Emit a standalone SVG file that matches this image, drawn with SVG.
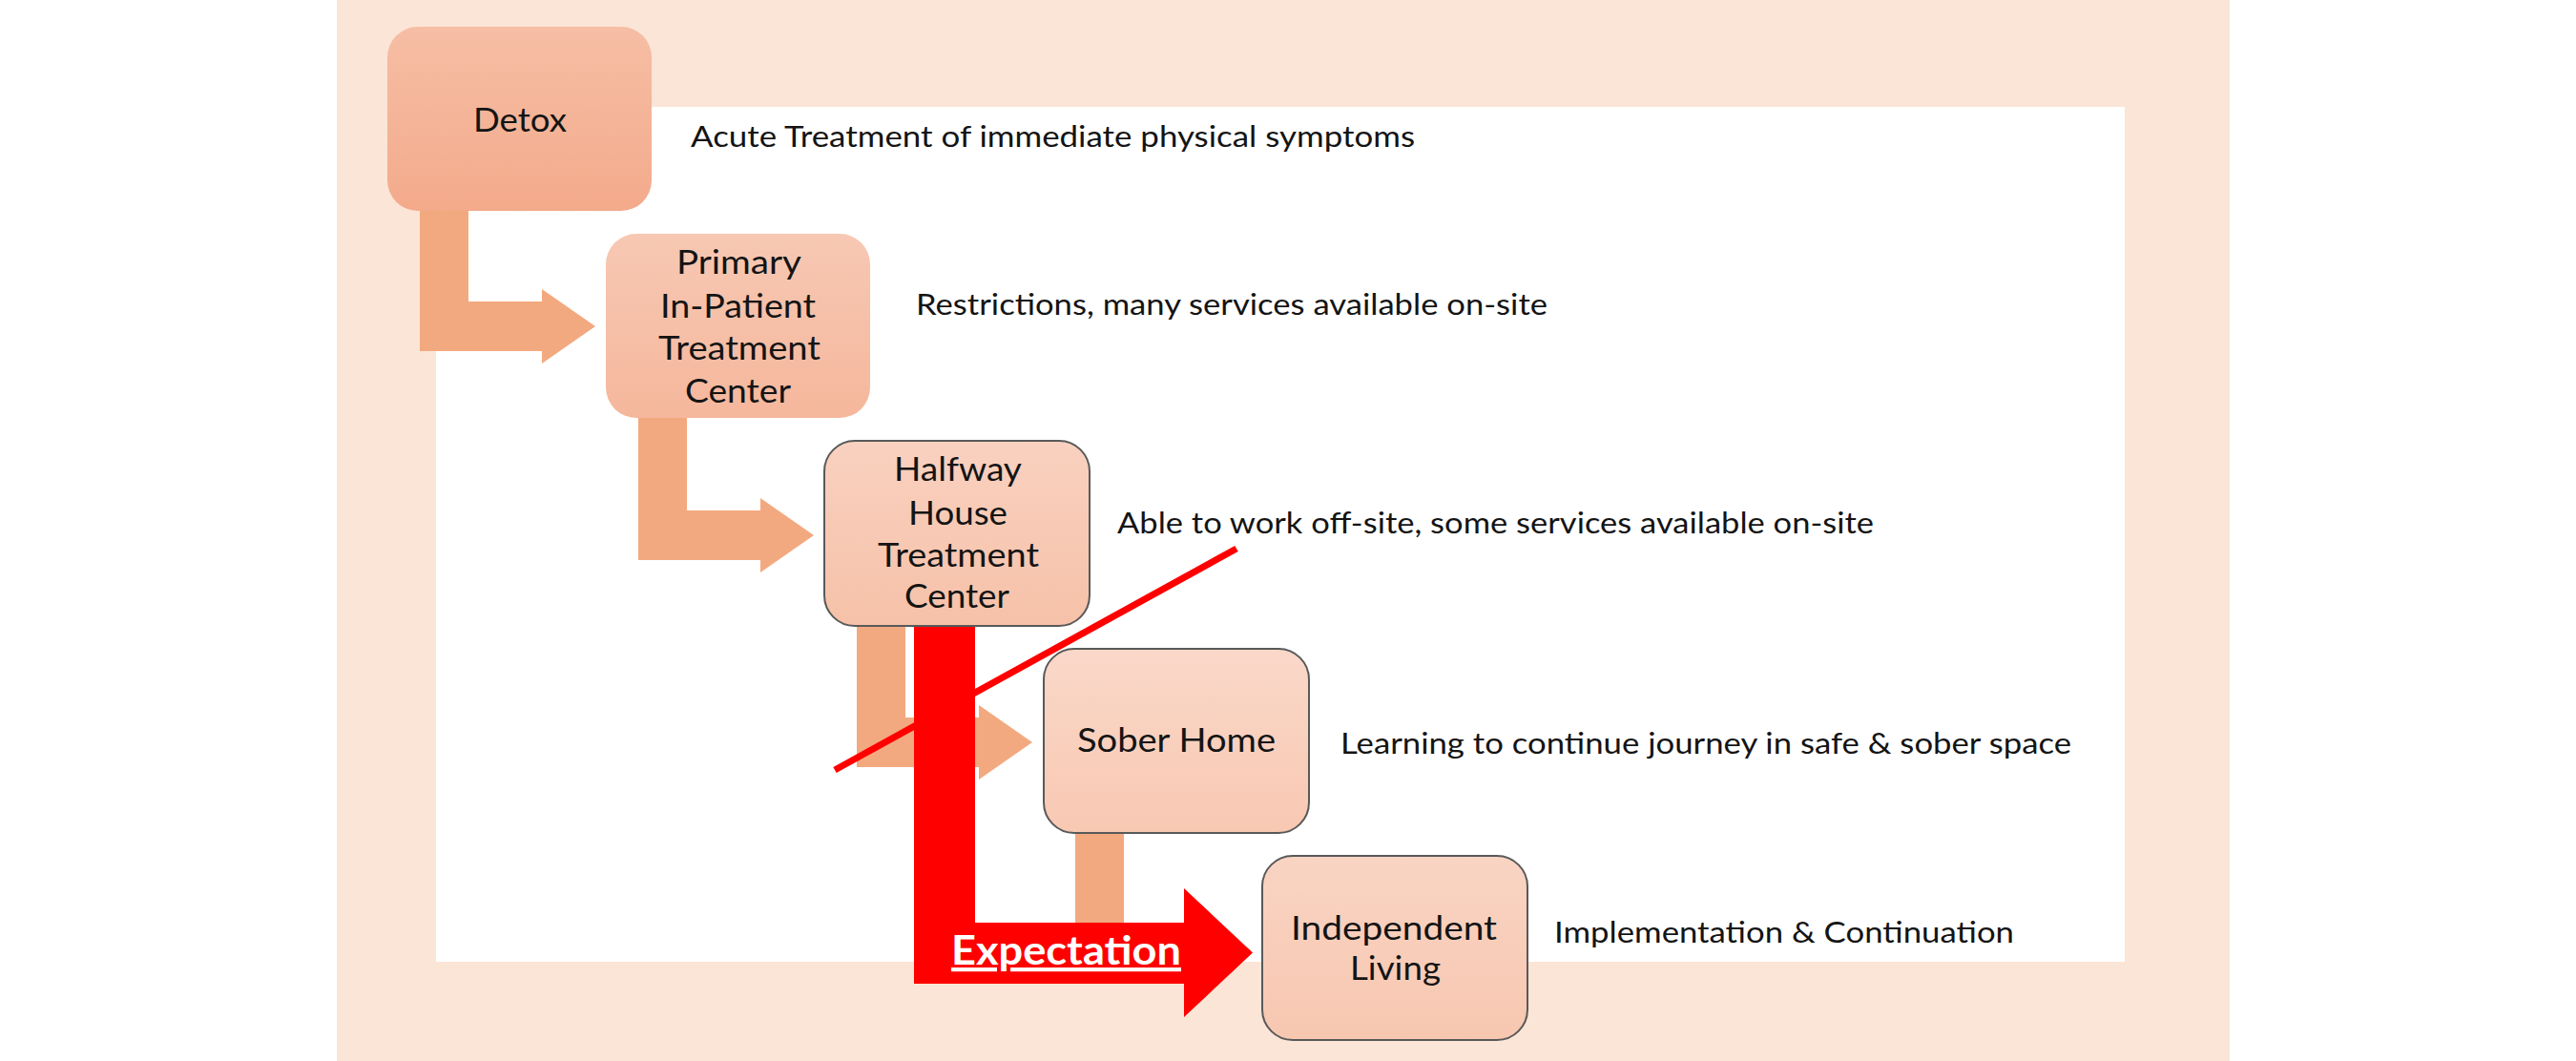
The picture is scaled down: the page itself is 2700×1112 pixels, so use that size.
<svg xmlns="http://www.w3.org/2000/svg" width="2700" height="1112" viewBox="0 0 2700 1112">
<defs>
<linearGradient id="gDetox" x1="0" y1="0" x2="0" y2="1"><stop offset="0" stop-color="#F6BEA5"/><stop offset="1" stop-color="#F3AA8B"/></linearGradient>
<linearGradient id="gPrimary" x1="0" y1="0" x2="0" y2="1"><stop offset="0" stop-color="#F7C8B3"/><stop offset="1" stop-color="#F5B79C"/></linearGradient>
<linearGradient id="gHalfway" x1="0" y1="0" x2="0" y2="1"><stop offset="0" stop-color="#F9D1C0"/><stop offset="1" stop-color="#F6C1A8"/></linearGradient>
<linearGradient id="gSober" x1="0" y1="0" x2="0" y2="1"><stop offset="0" stop-color="#FAD8C9"/><stop offset="1" stop-color="#F8C8B2"/></linearGradient>
<linearGradient id="gIndep" x1="0" y1="0" x2="0" y2="1"><stop offset="0" stop-color="#F9D4C3"/><stop offset="1" stop-color="#F7C7B0"/></linearGradient>
<style>
.box{stroke:none}
.bord{stroke:#595959;stroke-width:2}
.bt{font-family:Lato,"Liberation Sans",sans-serif;font-size:34px;fill:#141414}
.rt{font-family:Lato,"Liberation Sans",sans-serif;font-size:31px;fill:#141414}
.sal{fill:#F3A97F}
</style>
</defs>
<rect x="0" y="0" width="2700" height="1112" fill="#FFFFFF"/>
<rect x="353" y="0" width="1984" height="1112" fill="#FBE5D6"/>
<rect x="457" y="112" width="1770" height="896" fill="#FFFFFF"/>

<g id="connectors">
<polygon class="sal" points="440,220 491,220 491,316 568,316 568,303 624,342 568,381 568,368 440,368"/>
<polygon class="sal" points="669,438 720,438 720,535 797,535 797,522 853,561 797,600 797,587 669,587"/>
<polygon class="sal" points="898,656 949,656 949,752 1026,752 1026,739 1082,778 1026,817 1026,804 898,804"/>
<polygon class="sal" points="1127,873 1178,873 1178,970 1255,970 1255,957 1311,996 1255,1035 1255,1022 1127,1022"/>
</g>

<g id="node-detox">
<rect class="box" x="406" y="28" width="277" height="193" rx="32" fill="url(#gDetox)"/>
<text class="bt" x="496" y="138" textLength="98" lengthAdjust="spacingAndGlyphs">Detox</text>
</g>
<g id="node-primary">
<rect class="box" x="635" y="245" width="277" height="193" rx="32" fill="url(#gPrimary)"/>
<text class="bt" x="709" y="287" textLength="131" lengthAdjust="spacingAndGlyphs">Primary</text>
<text class="bt" x="692" y="333" textLength="163" lengthAdjust="spacingAndGlyphs">In-Patient</text>
<text class="bt" x="690" y="377" textLength="170" lengthAdjust="spacingAndGlyphs">Treatment</text>
<text class="bt" x="718" y="422" textLength="111" lengthAdjust="spacingAndGlyphs">Center</text>
</g>
<g id="node-halfway">
<rect class="bord" x="864" y="462" width="278" height="194" rx="32" fill="url(#gHalfway)"/>
<text class="bt" x="937" y="504" textLength="134" lengthAdjust="spacingAndGlyphs">Halfway</text>
<text class="bt" x="952" y="550" textLength="104" lengthAdjust="spacingAndGlyphs">House</text>
<text class="bt" x="920" y="594" textLength="169" lengthAdjust="spacingAndGlyphs">Treatment</text>
<text class="bt" x="948" y="637" textLength="110" lengthAdjust="spacingAndGlyphs">Center</text>
</g>
<g id="node-sober">
<rect class="bord" x="1094" y="680" width="278" height="193" rx="32" fill="url(#gSober)"/>
<text class="bt" x="1129" y="788" textLength="208" lengthAdjust="spacingAndGlyphs">Sober Home</text>
</g>
<g id="node-independent">
<rect class="bord" x="1323" y="897" width="278" height="193" rx="32" fill="url(#gIndep)"/>
<text class="bt" x="1353" y="985" textLength="216" lengthAdjust="spacingAndGlyphs">Independent</text>
<text class="bt" x="1415" y="1027" textLength="95" lengthAdjust="spacingAndGlyphs">Living</text>
</g>

<g id="expectation">
<polygon fill="#FF0000" points="958,657 1022,657 1022,967 1241,967 1241,931 1313,998.5 1241,1066 1241,1031 958,1031"/>
<text x="997" y="1011" textLength="241" lengthAdjust="spacingAndGlyphs" font-family="Lato,'Liberation Sans',sans-serif" font-size="42" font-weight="bold" fill="#FFFFFF" text-decoration="underline">Expectation</text>
</g>
<g id="strike">
<line x1="875" y1="807" x2="1296" y2="575" stroke="#FF0000" stroke-width="7"/>
</g>

<g id="descriptions">
<text class="rt" x="724" y="154" textLength="759" lengthAdjust="spacingAndGlyphs">Acute Treatment of immediate physical symptoms</text>
<text class="rt" x="960" y="330" textLength="662" lengthAdjust="spacingAndGlyphs">Restrictions, many services available on-site</text>
<text class="rt" x="1171" y="559" textLength="793" lengthAdjust="spacingAndGlyphs">Able to work off-site, some services available on-site</text>
<text class="rt" x="1405" y="790" textLength="766" lengthAdjust="spacingAndGlyphs">Learning to continue journey in safe &amp; sober space</text>
<text class="rt" x="1629" y="988" textLength="482" lengthAdjust="spacingAndGlyphs">Implementation &amp; Continuation</text>
</g>
</svg>
